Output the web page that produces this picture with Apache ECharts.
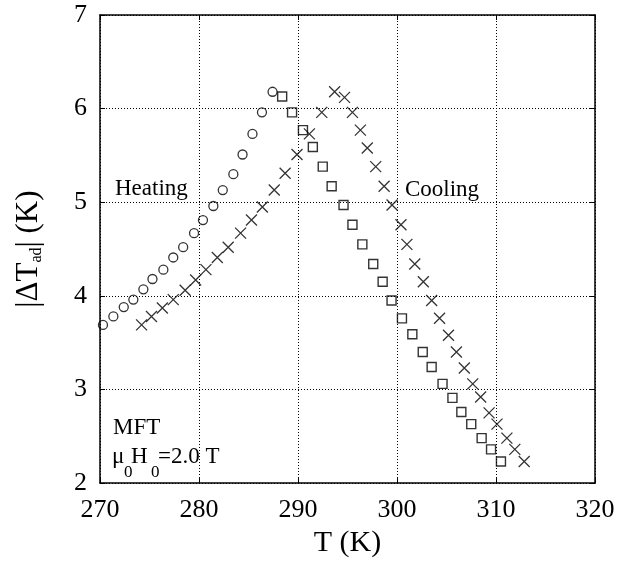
<!DOCTYPE html>
<html>
<head>
<meta charset="utf-8">
<script src="https://cdn.jsdelivr.net/npm/echarts@6/dist/echarts.min.js"></script>
<style>html,body{margin:0;padding:0;background:#fff;}#c{width:627px;height:563px;}</style>
</head>
<body>
<div id="c"></div>
<script>
// Heating (circles)
var circT = [270.3,271.35,272.4,273.37,274.38,275.3,276.4,277.4,278.4,279.5,280.4,281.45,282.4,283.47,284.4,285.4,286.36,287.43];
var circV = [3.69,3.78,3.88,3.96,4.07,4.18,4.28,4.41,4.52,4.67,4.81,4.96,5.13,5.30,5.51,5.73,5.96,6.18];
// Cooling (squares)
var sqT = [288.4,289.4,290.5,291.5,292.5,293.4,294.6,295.5,296.5,297.6,298.55,299.45,300.5,301.55,302.6,303.5,304.6,305.6,306.5,307.5,308.55,309.5,310.5];
var sqV = [6.13,5.96,5.77,5.59,5.38,5.17,4.97,4.76,4.55,4.34,4.15,3.95,3.76,3.59,3.40,3.24,3.06,2.91,2.76,2.63,2.48,2.36,2.23];
// Crosses, heating branch
var xhT = [274.2,275.2,276.3,277.4,278.6,279.66,280.7,281.85,282.95,284.2,285.3,286.4,287.6,288.7,289.9,291.15,292.4,293.7];
var xhV = [3.69,3.78,3.87,3.96,4.06,4.17,4.28,4.41,4.52,4.67,4.81,4.95,5.13,5.31,5.51,5.73,5.96,6.18];
// Crosses, cooling branch
var xcT = [294.7,295.5,296.3,297.0,297.85,298.7,299.5,300.4,301.0,301.8,302.66,303.5,304.3,305.2,306.0,306.8,307.65,308.45,309.3,310.1,311.1,311.9,312.85];
var xcV = [6.12,5.96,5.77,5.58,5.38,5.17,4.97,4.76,4.55,4.34,4.15,3.95,3.76,3.58,3.40,3.23,3.06,2.92,2.75,2.63,2.48,2.36,2.23];

var xTicks = [270,280,290,300,310,320];
var yTicks = [2,3,4,5,6,7];

function pairs(a,b){return a.map(function(v,i){return [v,b[i]];});}

var FF = "'Liberation Serif','Times New Roman',serif";
var chart = echarts.init(document.getElementById('c'), null, {renderer:'canvas'});

var baseX = {type:'value', min:xTicks[0], max:xTicks[xTicks.length-1], interval:10};
var baseY = {type:'value', min:yTicks[0], max:yTicks[yTicks.length-1], interval:1};
var lineSt = {show:true, lineStyle:{color:'#000', width:1.5}};
var tickSt = {show:true, inside:true, length:5, lineStyle:{color:'#000', width:1}};

var option = {
  animation:false,
  backgroundColor:'#fff',
  grid:{left:100, right:32, top:15, bottom:77, show:false},
  xAxis:[
    Object.assign({}, baseX, {
      position:'bottom', axisLine:lineSt, axisTick:tickSt,
      axisLabel:{color:'#000', fontFamily:FF, fontSize:26, margin:14},
      splitLine:{show:true, lineStyle:{color:'#000', width:1, type:[1,2]}},
      name:'T (K)', nameLocation:'middle', nameGap:42,
      nameTextStyle:{color:'#000', fontFamily:FF, fontSize:30}
    }),
    Object.assign({}, baseX, {
      position:'top', axisLine:lineSt, axisTick:tickSt,
      axisLabel:{show:false}, splitLine:{show:false}
    })
  ],
  yAxis:[
    Object.assign({}, baseY, {
      position:'left', axisLine:lineSt, axisTick:tickSt,
      axisLabel:{color:'#000', fontFamily:FF, fontSize:26, margin:13},
      splitLine:{show:true, lineStyle:{color:'#000', width:1, type:[1,2]}},
      name:'{t||ΔT}{s|ad}{t|| (K)}', nameLocation:'middle', nameGap:55, nameRotate:90,
      nameTextStyle:{color:'#000', fontFamily:FF, fontSize:30,
        rich:{t:{fontFamily:FF, fontSize:31, lineHeight:32, color:'#000'},
              s:{fontFamily:FF, fontSize:16, lineHeight:16, verticalAlign:'bottom', color:'#000'}}}
    }),
    Object.assign({}, baseY, {
      position:'right', axisLine:lineSt, axisTick:tickSt,
      axisLabel:{show:false}, splitLine:{show:false}
    })
  ],
  series:[
    {type:'scatter', data:pairs(circT,circV), symbol:'circle', symbolSize:9,
     itemStyle:{color:'none', borderColor:'#000', borderWidth:1.3}, emphasis:{disabled:true}},
    {type:'scatter', data:pairs(sqT,sqV), symbol:'rect', symbolSize:9,
     itemStyle:{color:'none', borderColor:'#000', borderWidth:1.4}, emphasis:{disabled:true}},
    {type:'scatter', data:pairs(xhT,xhV), symbol:'path://M0,0L10,10M10,0L0,10', symbolSize:11,
     itemStyle:{color:'none', borderColor:'#000', borderWidth:1.3}, emphasis:{disabled:true}},
    {type:'scatter', data:pairs(xcT,xcV), symbol:'path://M0,0L10,10M10,0L0,10', symbolSize:11,
     itemStyle:{color:'none', borderColor:'#000', borderWidth:1.3}, emphasis:{disabled:true}}
  ],
  graphic:[
    {type:'text', x:115, y:189, style:{text:'Heating', font:'23px '+FF, fill:'#000', verticalAlign:'middle'}},
    {type:'text', x:405, y:190, style:{text:'Cooling', font:'23px '+FF, fill:'#000', verticalAlign:'middle'}},
    {type:'text', x:113, y:428, style:{text:'MFT', font:'23px '+FF, fill:'#000', verticalAlign:'middle'}},
    {type:'text', x:112, y:457, style:{text:'μ', font:'23px '+FF, fill:'#000', verticalAlign:'middle'}},
    {type:'text', x:124, y:473, style:{text:'0', font:'17px '+FF, fill:'#000', verticalAlign:'middle'}},
    {type:'text', x:131, y:457, style:{text:'H', font:'23px '+FF, fill:'#000', verticalAlign:'middle'}},
    {type:'text', x:151, y:473, style:{text:'0', font:'17px '+FF, fill:'#000', verticalAlign:'middle'}},
    {type:'text', x:158, y:457, style:{text:'=2.0 T', font:'23px '+FF, fill:'#000', verticalAlign:'middle'}}
  ]
};
chart.setOption(option);
</script>
</body>
</html>
